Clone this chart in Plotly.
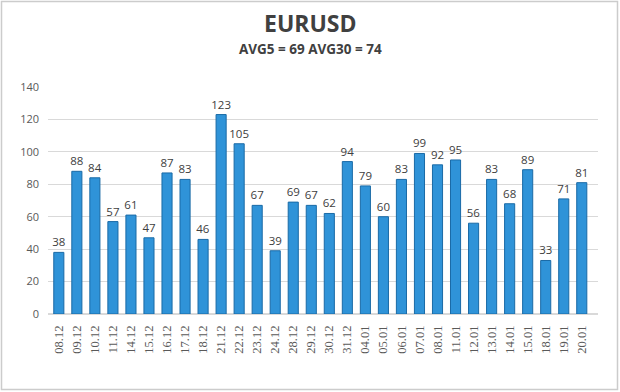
import plotly.graph_objects as go

dates = ["08.12", "09.12", "10.12", "11.12", "14.12", "15.12", "16.12", "17.12", "18.12",
         "21.12", "22.12", "23.12", "24.12", "28.12", "29.12", "30.12", "31.12", "04.01",
         "05.01", "06.01", "07.01", "08.01", "11.01", "12.01", "13.01", "14.01", "15.01",
         "18.01", "19.01", "20.01"]
values = [38, 88, 84, 57, 61, 47, 87, 83, 46, 123, 105, 67, 39, 69, 67, 62, 94, 79,
          60, 83, 99, 92, 95, 56, 83, 68, 89, 33, 71, 81]
y_ticks = [0, 20, 40, 60, 80, 100, 120, 140]
title_text = "EURUSD"
subtitle_text = "AVG5 = 69 AVG30 = 74"

W, H = 620, 392
L, R, T, B = 48, 22, 87, 78
pw, ph = W - L - R, H - T - B

fig = go.Figure()
fig.add_trace(go.Bar(
    x=list(range(len(dates))), y=values,
    width=0.56,
    marker=dict(color="#2F93D8", line=dict(color="#1A6AA6", width=1)),
    text=[str(v) for v in values], textposition="outside",
    textfont=dict(family="Open Sans, DejaVu Sans", size=11.5, color="#404040"),
    constraintext="none",
    cliponaxis=False,
))

fig.update_layout(
    width=W, height=H,
    paper_bgcolor="white", plot_bgcolor="white",
    margin=dict(l=L, r=R, t=T, b=B, autoexpand=False),
    showlegend=False,
    xaxis=dict(
        tickmode="array", tickvals=list(range(len(dates))), ticktext=dates,
        tickangle=-90, range=[-0.6, 29.9],
        tickfont=dict(family="Liberation Serif", size=12.5, color="#595959"),
        showgrid=False, zeroline=False, showline=False, ticks="",
        ticklabelstandoff=8, automargin=False,
    ),
    yaxis=dict(
        range=[0, 140], tickvals=y_ticks,
        tickfont=dict(family="Open Sans, DejaVu Sans", size=11, color="#595959"),
        gridcolor="#D9D9D9", gridwidth=1, zeroline=True, zerolinecolor="#D9D9D9",
        showline=False, ticks="", ticklabelstandoff=8, automargin=False,
    ),
    annotations=[
        dict(text="<b>" + title_text + "</b>", xref="paper", yref="paper",
             x=0.5 - (L - R) / 2 / pw, y=1 + (T - 23) / ph, xanchor="center", yanchor="middle",
             showarrow=False, font=dict(family="Open Sans, DejaVu Sans", size=23, color="#404040")),
        dict(text="<b>" + subtitle_text + "</b>", xref="paper", yref="paper",
             x=0.5 - (L - R) / 2 / pw, y=1 + (T - 49) / ph, xanchor="center", yanchor="middle",
             showarrow=False, font=dict(family="Open Sans, DejaVu Sans", size=13.5, color="#404040")),
    ],
    shapes=[dict(type="rect", xref="paper", yref="paper",
                 x0=-(L - 1.5) / pw, x1=1 + (R - 2.5) / pw,
                 y0=-(B - 2.5) / ph, y1=1 + (T - 1.5) / ph,
                 line=dict(color="#CCCCCC", width=1.5))],
)

fig.write_html("out.html", config={"displayModeBar": False},
               post_script="document.body.style.margin='0';document.body.style.padding='0';")
